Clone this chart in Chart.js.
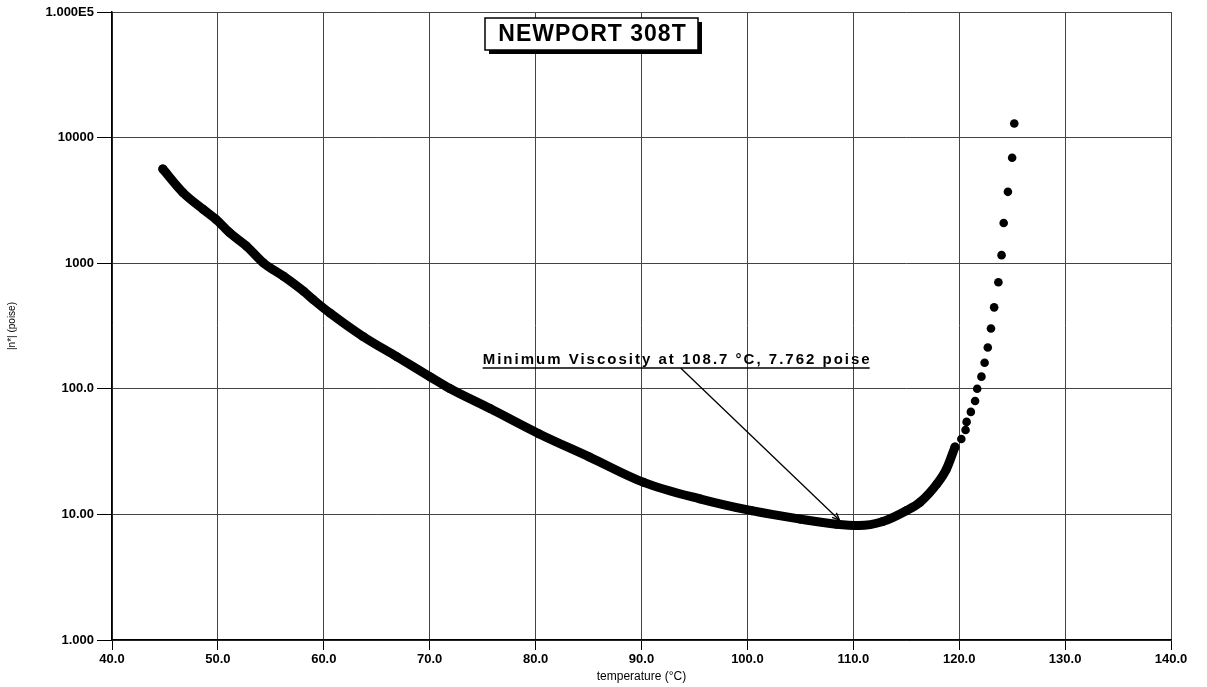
<!DOCTYPE html>
<html>
<head>
<meta charset="utf-8">
<script src="https://cdn.jsdelivr.net/npm/chart.js@4.4.1/dist/chart.umd.min.js"></script>
<style>
  html, body { margin: 0; padding: 0; background: #fff; }
  #wrap { width: 1207px; height: 687px; }
</style>
</head>
<body>
<div id="wrap"><canvas id="c" width="1207" height="687"></canvas></div>
<script>
// viscosity sweep: dense part (overlapping dots)
const curveTemp = [44.8, 46.7, 48.6, 49.8, 51.1, 52.7, 54.3, 56.2, 58.1, 59.0,
                   60.6, 63.7, 66.9, 70.0, 71.9, 75.7, 80.3, 85.1, 90.2, 95.5,
                   100.4, 105.0, 108.4, 110.5, 112.8, 115.0, 116.3, 117.9, 118.8, 119.6];
const curveVisc = [5620, 3650, 2690, 2240, 1750, 1368, 1005, 787, 597, 513,
                   400, 261, 180, 125, 100.5, 69.6, 43.9, 28.6, 18.0, 13.3,
                   10.7, 9.17, 8.36, 8.16, 8.79, 10.7, 12.5, 17.5, 23.0, 34.4];
// upturn, where the dots separate
const upTemp = [120.2, 120.6, 120.7, 121.1, 121.5, 121.7, 122.1, 122.4, 122.7,
                123.0, 123.3, 123.7, 124.0, 124.2, 124.6, 125.0, 125.2];
const upVisc = [39.8, 47, 54.5, 65.5, 80, 100, 125, 161, 213,
                302, 445, 705, 1159, 2090, 3700, 6920, 12940];

const yTicks = [1, 10, 100, 1000, 10000, 100000];
const yTickLabels = ['1.000', '10.00', '100.0', '1000', '10000', '1.000E5'];

const chartTitle = 'NEWPORT 308T';
const minTemp = 108.7, minVisc = 7.762;
const minLabel = 'Minimum Viscosity at 108.7 \u00B0C, 7.762 poise';

const FONT = '"Liberation Sans", Arial, sans-serif';

// title box + min-viscosity callout
const overlay = {
    id: 'overlay',
    afterDraw(chart) {
        const ctx = chart.ctx;
        const xs = chart.scales.x, ys = chart.scales.y;
        ctx.save();

        // boxed title with drop shadow
        const bx = 485, by = 18, bw = 213, bh = 32;
        ctx.fillStyle = '#000';
        ctx.fillRect(bx + 4, by + 4, bw, bh);
        ctx.fillStyle = '#fff';
        ctx.fillRect(bx, by, bw, bh);
        ctx.lineWidth = 1.5;
        ctx.strokeStyle = '#000';
        ctx.strokeRect(bx, by, bw, bh);
        ctx.fillStyle = '#000';
        ctx.font = 'bold 23px ' + FONT;
        ctx.letterSpacing = '1px';
        ctx.textAlign = 'center';
        ctx.textBaseline = 'middle';
        ctx.fillText(chartTitle, bx + bw / 2 + 1, by + bh / 2 + 1);

        // callout text, underlined
        const tx = xs.getPixelForValue(75.0);
        const ty = 364;
        ctx.font = 'bold 15px ' + FONT;
        ctx.letterSpacing = '2px';
        ctx.textAlign = 'left';
        ctx.textBaseline = 'alphabetic';
        ctx.fillText(minLabel, tx, ty);
        const w = ctx.measureText(minLabel).width;
        ctx.lineWidth = 1.3;
        ctx.beginPath();
        ctx.moveTo(tx, ty + 4);
        ctx.lineTo(tx + w - 2, ty + 4);
        ctx.stroke();

        // pointer to the minimum
        const px = xs.getPixelForValue(minTemp);
        const py = ys.getPixelForValue(minVisc) - 8;
        const sx = tx + 198, sy = ty + 4;
        ctx.lineWidth = 1.3;
        ctx.beginPath();
        ctx.moveTo(sx, sy);
        ctx.lineTo(px, py);
        ctx.stroke();
        const ang = Math.atan2(py - sy, px - sx);
        ctx.beginPath();
        ctx.moveTo(px - 8 * Math.cos(ang - 0.4), py - 8 * Math.sin(ang - 0.4));
        ctx.lineTo(px, py);
        ctx.lineTo(px - 8 * Math.cos(ang + 0.4), py - 8 * Math.sin(ang + 0.4));
        ctx.stroke();
        ctx.restore();
    }
};

new Chart(document.getElementById('c'), {
    type: 'scatter',
    data: {
        datasets: [
            {
                label: 'curve',
                data: curveTemp.map((t, i) => ({ x: t, y: curveVisc[i] })),
                showLine: true,
                borderColor: '#000',
                backgroundColor: '#000',
                borderWidth: 9,
                borderCapStyle: 'round',
                borderJoinStyle: 'round',
                cubicInterpolationMode: 'monotone',
                pointRadius: 4.5,
                pointBorderWidth: 0,
                pointHoverRadius: 4.5
            },
            {
                label: 'upturn',
                data: upTemp.map((t, i) => ({ x: t, y: upVisc[i] })),
                showLine: false,
                borderColor: '#000',
                backgroundColor: '#000',
                pointRadius: 4.3,
                pointBorderWidth: 0,
                pointHoverRadius: 4.3
            }
        ]
    },
    options: {
        responsive: false, animation: false,
        layout: { padding: { left: 0, top: 12, right: 36, bottom: 0 } },
        plugins: { legend: { display: false }, tooltip: { enabled: false } },
        scales: {
            x: {
                type: 'linear', min: 40, max: 140,
                afterFit: s => { s.height = 47; },
                ticks: {
                    stepSize: 10, padding: 2, color: '#000',
                    font: { family: FONT, size: 13, weight: 'bold' },
                    callback: v => Number(v).toFixed(1)
                },
                grid: { color: '#444', lineWidth: 1, tickLength: 10, tickColor: '#000' },
                border: { color: '#000', width: 1.5 },
                title: {
                    display: true, text: 'temperature (\u00B0C)', color: '#000',
                    font: { family: FONT, size: 12 }, padding: { top: 0, bottom: 3 }
                }
            },
            y: {
                type: 'logarithmic', min: 1, max: 100000,
                afterFit: s => { s.width = 112; },
                afterBuildTicks: s => { s.ticks = yTicks.map(v => ({ value: v })); },
                ticks: {
                    color: '#000', padding: 3,
                    font: { family: FONT, size: 13, weight: 'bold' },
                    callback: v => yTickLabels[yTicks.indexOf(v)] || ''
                },
                grid: { color: '#444', lineWidth: 1, tickLength: 15, tickColor: '#000' },
                border: { color: '#000', width: 1.5 },
                title: {
                    display: true, text: '|n*| (poise)', color: '#000',
                    font: { family: FONT, size: 10 }, padding: { top: 6, bottom: 2 }
                }
            }
        }
    },
    plugins: [overlay]
});
</script>
</body>
</html>
